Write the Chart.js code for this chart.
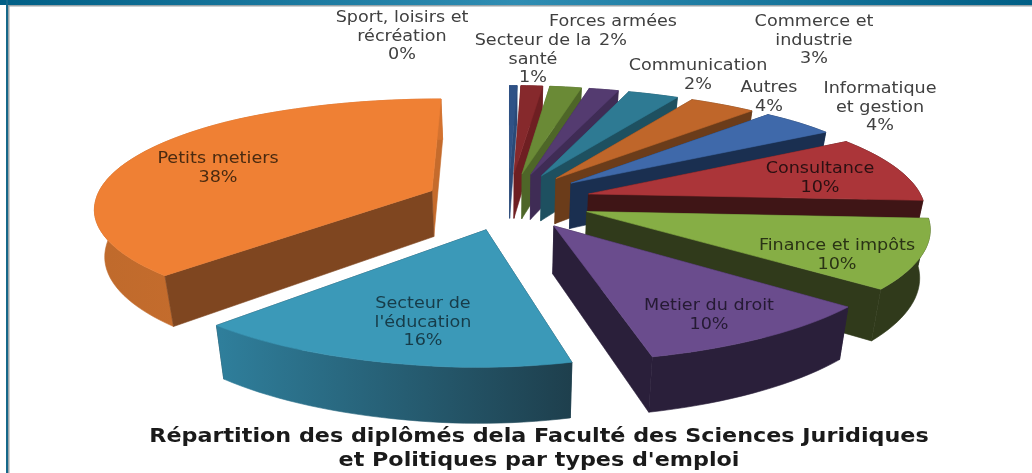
<!DOCTYPE html>
<html>
<head>
<meta charset="utf-8">
<style>
  html, body { margin: 0; padding: 0; background: #fff; }
  canvas { display: block; filter: blur(0.5px); }
</style>
<script src="https://cdn.jsdelivr.net/npm/chart.js@4"></script>
</head>
<body>
<canvas id="graph1" width="1032" height="473"></canvas>
<script>
const categories = [
  ['Sport, loisirs et', 'récréation'],
  ['Secteur de la', 'santé'],
  ['Forces armées'],
  ['Communication'],
  ['Commerce et', 'industrie'],
  ['Autres'],
  ['Informatique', 'et gestion'],
  ['Consultance'],
  ['Finance et impôts'],
  ['Metier du droit'],
  ['Secteur de', "l'éducation"],
  ['Petits metiers']
];
const seriesValues = [0.45, 1.3, 1.9, 1.65, 2.8, 3.7, 4.2, 9.95, 10, 10, 16, 38];
const titleLines = ['Répartition des diplômés dela Faculté des Sciences Juridiques', "et Politiques par types d'emploi"];

// couleurs : dessus, parois radiales, paroi exterieure (gauche -> droite)
const topColors = ['#2F5286', '#86292C', '#6A8A36', '#543B70', '#2E7A93', '#BF662A', '#3F69AA', '#AB3539', '#86AE45', '#6A4C8D', '#3B99B8', '#EF8034'];
const startWalls = ['#2A4A78', '#6E1F22', '#4E6628', '#3F2C55', '#1E5060', '#6B3C1A', '#1A2F50', '#3F1516', '#303A1B', '#2A1F3A', '#1F3E4C', '#7F4620'];
const endWalls = ['#2A4A78', '#6E1F22', '#4E6628', '#3F2C55', '#1E5060', '#6B3C1A', '#1A2F50', '#3F1516', '#303A1B', '#2A1F3A', '#1F3E4C', '#C56B2C'];
const outerLeft = ['#2A4A78', '#6E1F22', '#4E6628', '#3F2C55', '#1E5060', '#6B3C1A', '#1A2F50', '#3F1516', '#303A1B', '#2A1F3A', '#2F7F9C', '#BF6A2C'];
const outerRight = ['#2A4A78', '#6E1F22', '#4E6628', '#3F2C55', '#1E5060', '#6B3C1A', '#1A2F50', '#3F1516', '#303A1B', '#2A1F3A', '#1E3F4D', '#D4722F'];

// centre de chaque etiquette (x, y de la premiere ligne) et couleur
const labelSpots = [[402, 18], [533, 41], [613, 22], [698, 66], [814, 22], [769, 88], [880, 89], [820, 169], [837, 246], [709, 306], [423, 304], [218, 159]];
const labelInk = ['#404040', '#404040', '#404040', '#404040', '#404040', '#404040', '#404040', '#2b1012', '#2a3315', '#251a33', '#173c49', '#4a2a10'];
const lineStep = 18.7;

// reglages de la projection perspective
const WORLD_R = 312, TILT = 0.342, PERSP = 0.000433, DEPTH = 46.5, SHIFT_X = -7.5;

function widen (X) {
  if (X > 300) return X + 19 + 0.04 * (X - 300);
  if (X > 100) return X + 0.095 * (X - 100);
  if (X < -290) return X - 21 + 0.04 * (X + 290);
  if (X < -80) return X + 0.1 * (X + 80);
  return X;
}

function project (cx, cy, X, Y, low) {
  const w = 1 + PERSP * Y;
  let x = (widen(X) + 0.012 * Math.min(Y, 0)) / w;
  let y = -TILT * Y / w;
  if (Y < 0) y *= 1 - 0.00007 * Y;
  if (low) {
    x *= 0.975;
    y += DEPTH / w;
  }
  return [cx + x, cy + y];
}

function stretched (c, t, x, y, sx) {
  c.save();
  c.translate(x, y);
  c.scale(sx, 1);
  c.fillText(t, 0, 0);
  c.restore();
}

const pie3d = {
  id: 'pie3d',
  beforeDraw (chart) {
    const c = chart.ctx;
    const g = c.createLinearGradient(0, 0, 1032, 0);
    g.addColorStop(0, '#005F86');
    g.addColorStop(0.5, '#2F8DB3');
    g.addColorStop(1, '#005F86');
    c.fillStyle = g;
    c.fillRect(0, 0, 1032, 5);
    c.fillStyle = '#9aa4a8';
    c.fillRect(8, 5, 1024, 1.5);
    c.fillRect(8, 5, 1.5, 468);
    c.fillStyle = '#16688a';
    c.fillRect(6, 0, 2, 473);
  },
  beforeDatasetsDraw (chart) {
    const c = chart.ctx;
    const arcs = chart.getDatasetMeta(0).data;
    const order = arcs.map((a, i) => i).sort((p, q) => {
      const mid = a => (arcs[a].startAngle + arcs[a].endAngle) / 2 + Math.PI / 2;
      return Math.cos(mid(q)) - Math.cos(mid(p));
    });
    order.forEach(i => drawSlice(c, arcs[i], i));
    return false; // les parts sont peintes ici, pas par defaut
  },
  afterDraw (chart) {
    const c = chart.ctx;
    c.textAlign = 'center';
    c.textBaseline = 'middle';
    c.font = '15.5px "DejaVu Sans"';
    const total = seriesValues.reduce((a, b) => a + b, 0);
    categories.forEach((lines, i) => {
      const pct = Math.round(seriesValues[i] / total * 100) + '%';
      const [x, y] = labelSpots[i];
      c.fillStyle = labelInk[i];
      lines.forEach((t, n) => stretched(c, t, x, y + n * lineStep, 1.135));
      stretched(c, pct, x, y + lines.length * lineStep, 1.135);
    });
    // titre
    c.font = 'bold 20px "DejaVu Sans"';
    c.fillStyle = '#1a1a1a';
    titleLines.forEach((t, n) => stretched(c, t, 539, 437 + n * 24, 1.113));
  }
};

function drawSlice (c, arc, i) {
  const cx = arc.x + SHIFT_X, cy = arc.y;
  const k = WORLD_R / arc.outerRadius;
  const a0 = arc.startAngle + Math.PI / 2, a1 = arc.endAngle + Math.PI / 2, m = (a0 + a1) / 2;
  const e = arc.options.offset * k;
  const ox = e * Math.sin(m), oy = e * Math.cos(m);
  const rim = [];
  const steps = Math.max(4, Math.ceil((a1 - a0) * 30));
  for (let s = 0; s <= steps; s++) {
    const t = a0 + (a1 - a0) * s / steps;
    rim.push([ox + WORLD_R * Math.sin(t), oy + WORLD_R * Math.cos(t)]);
  }
  const tip = [ox, oy];
  const hi = p => project(cx, cy, p[0], p[1], false);
  const lo = p => project(cx, cy, p[0], p[1], true);
  const quad = (pts, fill) => {
    c.beginPath();
    pts.forEach((p, n) => n ? c.lineTo(p[0], p[1]) : c.moveTo(p[0], p[1]));
    c.closePath();
    c.fillStyle = fill;
    c.strokeStyle = fill;
    c.lineWidth = 0.6;
    c.fill();
    c.stroke();
  };

  const xs = rim.map(p => hi(p)[0]);
  const g = c.createLinearGradient(Math.min(...xs), 0, Math.max(...xs) + 0.1, 0);
  g.addColorStop(0, outerLeft[i]);
  g.addColorStop(1, outerRight[i]);
  const first = rim[0], last = rim[rim.length - 1];
  const faces = [
    { y: (tip[1] + first[1]) / 2, pts: [tip, first], fill: startWalls[i] },
    { y: (tip[1] + last[1]) / 2, pts: [tip, last], fill: endWalls[i] },
    { y: oy + WORLD_R * Math.cos(m), pts: rim, fill: g }
  ].sort((p, q) => q.y - p.y);
  faces.forEach(f => quad(f.pts.map(hi).concat(f.pts.slice().reverse().map(lo)), f.fill));
  quad([hi(tip)].concat(rim.map(hi)), topColors[i]);
}

const graph = new Chart(document.getElementById('graph1'), {
  type: 'pie',
  data: {
    labels: categories.map(l => l.join(' ')),
    datasets: [{
      data: seriesValues,
      backgroundColor: topColors,
      borderWidth: 0,
      offset: 47.4
    }]
  },
  options: {
    responsive: false,
    animation: false,
    layout: { padding: { bottom: 71 } },
    plugins: {
      legend: { display: false },
      tooltip: { enabled: false },
      title: { display: false }
    }
  },
  plugins: [pie3d]
});
</script>
</body>
</html>
